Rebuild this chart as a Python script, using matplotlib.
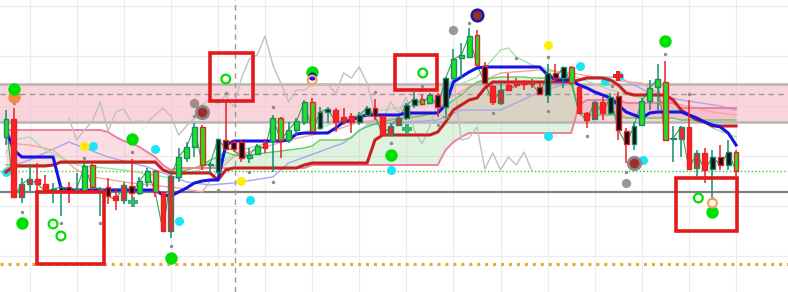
import matplotlib
matplotlib.use("Agg")
import matplotlib.pyplot as plt
from matplotlib.patches import Rectangle

# ---------------- data ----------------
opens = [163, 181, 103, 116, 121, 116, 110, 109, 113, 109,
         109, 135, 110, 113, 104, 100, 114, 107, 118, 129,
         108, 69, 123, 142, 153, 173, 135, 128, 160, 158,
         158, 142, 146, 157, 159, 182, 160, 170, 178, 198,
         172, 188, 190, 183, 184, 178, 185, 192, 184, 165,
         175, 182, 195, 201, 197, 205, 193, 222, 242, 243,
         265, 234, 214, 197, 215, 218, 218, 218, 213, 205,
         227, 222, 233, 213, 187, 181, 198, 187, 204, 169,
         156, 175, 199, 213, 218, 161, 161, 173, 132, 147,
         131, 143, 135, 148]
highs = [190, 192, 122, 136, 137, 125, 117, 113, 118, 127,
         137, 136, 113, 122, 112, 118, 141, 123, 132, 130,
         108, 127, 152, 158, 177, 175, 138, 161, 198, 160,
         160, 152, 156, 161, 185, 183, 178, 182, 200, 202,
         193, 193, 192, 192, 187, 188, 194, 201, 184, 177,
         184, 197, 208, 205, 207, 207, 223, 251, 257, 272,
         270, 238, 215, 217, 227, 222, 220, 221, 217, 236,
         236, 233, 234, 214, 188, 199, 203, 207, 208, 172,
         178, 202, 220, 236, 239, 174, 174, 200, 150, 152,
         150, 155, 160, 150]
lows = [155, 103, 97, 109, 107, 109, 97, 84, 97, 108,
        109, 109, 84, 96, 90, 96, 103, 105, 113, 103,
        69, 62, 118, 138, 143, 130, 127, 125, 151, 148,
        138, 137, 145, 147, 128, 142, 157, 165, 175, 168,
        170, 177, 168, 175, 167, 175, 183, 180, 164, 164,
        175, 180, 192, 195, 196, 183, 182, 220, 222, 242,
        234, 217, 195, 195, 210, 212, 210, 212, 205, 197,
        217, 212, 215, 186, 172, 180, 180, 185, 160, 137,
        150, 174, 190, 190, 160, 138, 143, 131, 124, 117,
        103, 130, 130, 124]
closes = [181, 103, 116, 121, 116, 109, 111, 113, 109, 111,
          134, 113, 111, 104, 100, 115, 107, 119, 129, 108,
          69, 124, 143, 153, 173, 135, 136, 161, 151, 151,
          142, 145, 154, 152, 182, 160, 170, 179, 198, 169,
          188, 191, 178, 179, 178, 185, 192, 184, 165, 174,
          182, 195, 201, 196, 205, 193, 222, 241, 245, 264,
          235, 217, 198, 210, 210, 215, 216, 216, 206, 227,
          222, 233, 217, 187, 180, 198, 187, 203, 170, 156,
          174, 199, 212, 221, 160, 162, 173, 131, 147, 130,
          143, 135, 148, 129]
body_fill = ("grrrrrkkkg" "gggkrrkggg" "rrgggggkkk" "kggrgggggg" "kkrrrkkkrr"
             "rkkggkkggg" "gkrrrrrrkk" "kkgrrrrkkk" "kgggggrrrr" "kkkg")

tenkan = [170, 150, 143, 143, 143, 143, 143, 112, 110, 110,
          110, 110, 110, 110, 110, 110, 110, 110, 110, 110,
          105, 104, 108, 112, 117, 119, 120, 120, 155, 159,
          159, 159, 159, 159, 159, 159, 160, 166, 167, 167,
          167, 167, 172, 178, 180, 183, 185, 185, 185, 185,
          185, 187, 187, 187, 187, 187, 195, 218, 223, 228,
          232, 233, 233, 233, 233, 233, 233, 233, 233, 225,
          220, 220, 220, 215, 212, 208, 205, 202, 195, 188,
          185, 182, 187, 188, 188, 188, 188, 185, 182, 178,
          175, 173, 167, 155]
kijun = [128, 134, 134, 134, 134, 134, 135, 138, 138, 138,
         138, 138, 138, 138, 138, 138, 138, 138, 138, 138,
         130, 127, 127, 127, 127, 127, 127, 120, 130, 132,
         132, 132, 132, 132, 132, 132, 132, 132, 135, 137,
         137, 137, 137, 137, 137, 137, 137, 160, 165, 165,
         165, 165, 165, 165, 165, 168, 178, 190, 195, 200,
         202, 212, 218, 218, 218, 218, 218, 218, 218, 218,
         218, 218, 218, 220, 222, 222, 222, 220, 215, 207,
         205, 205, 205, 205, 205, 200, 190, 185, 180, 178,
         174, 174, 174, 174]
span_b = [170, 170, 170, 170, 170, 170, 170, 170, 170, 170,
          170, 170, 170, 168, 163, 159, 157, 153, 148, 143,
          135, 130, 132, 132, 132, 132, 132, 132, 132, 132,
          132, 132, 132, 132, 132, 132, 132, 132, 132, 135,
          135, 135, 135, 135, 135, 135, 135, 135, 135, 135,
          135, 135, 135, 135, 135, 135, 150, 158, 163, 167,
          167, 167, 167, 167, 167, 167, 167, 167, 167, 167,
          167, 167, 167, 195, 200, 200, 200, 200, 200, 197,
          197, 197, 197, 197, 197, 197, 192, 192, 192, 192,
          192, 192, 192, 192]
span_a = [135, 135, 135, 135, 135, 135, 135, 137, 137, 137,
          137, 137, 137, 137, 137, 137, 137, 137, 137, 137,
          130, 128, 128, 130, 132, 135, 140, 143, 148, 145,
          145, 145, 146, 147, 148, 149, 150, 151, 152, 154,
          160, 160, 160, 160, 162, 170, 173, 176, 179, 180,
          181, 182, 183, 184, 186, 188, 194, 200, 205, 212,
          218, 220, 222, 223, 223, 223, 223, 222, 222, 222,
          222, 222, 222, 188, 185, 185, 185, 185, 185, 182,
          182, 182, 182, 182, 182, 182, 180, 180, 180, 180,
          180, 180, 180, 180]
chikou_shift = 26
chikou_start = 34

lav_idx = [0, 3, 8, 13, 18, 23, 26, 29, 34, 36, 43, 46, 55, 58, 63, 68, 72, 74, 78, 82, 86, 91, 93]
lav_val = [132, 140, 158, 143, 133, 118, 115, 117, 123, 137, 157, 175, 180, 190, 190, 208, 218, 223, 223, 207, 200, 194, 190]
sal_idx = [0, 3, 6, 9, 11, 16, 22, 25, 27, 29, 33, 36, 42, 45, 51, 55, 56, 59, 63, 68, 72, 77, 81, 85, 90, 93]
sal_val = [157, 155, 150, 130, 123, 117, 112, 108, 130, 143, 153, 160, 170, 178, 183, 187, 200, 213, 227, 230, 227, 220, 217, 197, 188, 185]
lg_idx = [0, 1, 3, 5, 9, 15, 21, 27, 30, 36, 41, 46, 55, 57, 60, 63, 64, 65, 67, 72, 77, 81, 83, 88, 90, 93]
lg_val = [147, 160, 163, 150, 135, 130, 122, 135, 150, 163, 175, 188, 197, 213, 223, 250, 252, 243, 235, 225, 210, 202, 197, 183, 172, 163]

# horizontal levels
band_high, band_low, band_mid = 216, 178, 206
support_level = 108
green_level = 129
orange_level = 36
vline_at = 29.2
grid_x = [3, 9, 15, 21, 27, 33, 39, 45, 51, 57, 63, 69, 75, 81, 87, 93]
grid_y = [44, 94, 144, 194, 244, 294]

# markers (candle index, price)
big_green = ([1, 2, 16, 21, 39, 49, 84, 90], [211, 77, 161, 42, 228, 145, 259, 88])
orange_dot = ([1], [203])
orange_ring = ([39, 90], [220, 97])
blue_dot = ([39], [224])
green_ring = ([28, 6, 7, 53.1, 88.2], [221, 76, 64, 227, 102])
cyan_dot = ([0, 11.1, 19, 22, 31.1, 49, 69, 73.1, 81.1, 76.3, 78.1],
            [128, 154, 151, 79, 100, 130, 164, 234, 140, 219, 224])
yellow_dot = ([10, 30, 69], [154, 119, 255])
gray_small = ([1, 2, 10, 7, 12, 16, 21, 27, 24, 28, 31, 34, 34, 47, 49, 53, 55, 59, 62, 65,
               69, 69, 74, 77.2, 79, 84, 87, 90],
              [197, 88, 142, 77, 77, 148, 54, 110, 184, 207, 128, 193, 118, 208, 157, 214, 175,
               277, 187, 242, 243, 189, 164, 214, 128, 246, 206, 102])
gray_big = ([57, 79], [270, 117])
rosy_big = ([24], [197])
maroon_ring = ([25, 80], [188, 137])
navy_ring = ([60], [285])
red_plus = ([78], [224])
green_plus = ([16.2, 51.1], [98, 171])
olive_plus = ([56, 83.3], [183, 198])

# highlight boxes: (first index, last index, low price, high price)
boxes = [(3.95, 12.48, 36, 108), (26.0, 31.5, 199, 247), (49.55, 54.9, 210, 245), (85.35, 93.1, 69, 122)]

# ---------------- drawing ----------------
fig = plt.figure(figsize=(7.88, 2.92), dpi=100)
ax = fig.add_axes([0, 0, 1, 1])
ax.set_xlim(-0.764, 99.62)
ax.set_ylim(8, 300)
ax.axis('off')

n = len(closes)
idx = list(range(n))

for gx in grid_x:
    ax.axvline(gx, color='#ececec', lw=0.8, zorder=0)
for gy in grid_y:
    ax.axhline(gy, color='#ececec', lw=0.8, zorder=0)

ax.axhspan(band_low, band_high, color='#f7c3cc', alpha=0.7, lw=0, zorder=1)

# cloud
ga = [a >= b for a, b in zip(span_a, span_b)]
pa = [a < b for a, b in zip(span_a, span_b)]
ax.fill_between(idx, span_a, span_b, where=ga, interpolate=True, color='#7fd07f', alpha=0.25, lw=0, zorder=1.5)
ax.fill_between(idx, span_a, span_b, where=pa, interpolate=True, color='#f48fa8', alpha=0.3, lw=0, zorder=1.5)

ax.axhline(band_high, color='#b5b5b5', lw=1.8, zorder=2)
ax.axhline(band_low, color='#b5b5b5', lw=1.8, zorder=2)
ax.axhline(band_mid, color='#9a9a9a', lw=1, ls=(0, (4, 3)), zorder=2)
ax.axhline(support_level, color='#808080', lw=1.6, zorder=2)
ax.axhline(green_level, color='#2ecc2e', lw=1, ls=(0, (1, 1.6)), zorder=2)
ax.axhline(orange_level, color='#f2a33a', lw=2.2, ls=(0, (1, 1.6)), dash_capstyle='butt', zorder=2)
ax.axvline(vline_at, color='#9a9a9a', lw=1, ls=(0, (4, 3)), zorder=2)

# thin indicator lines
ax.plot(lav_idx, lav_val, color='#a6a6ee', lw=1, zorder=3)
ax.plot(sal_idx, sal_val, color='#f5a3a3', lw=1, zorder=3)
ax.plot(lg_idx, lg_val, color='#a3e3a3', lw=1, zorder=3)
ax.plot(idx, span_a, color='#5ccc5c', lw=1, zorder=3)
ax.plot(idx, span_b, color='#ee7fa0', lw=1.4, zorder=3)
ch_x = [i - chikou_shift for i in range(chikou_start, n)]
ch_y = closes[chikou_start:]
ax.plot(ch_x, ch_y, color='#c0c0c0', lw=1, zorder=3)
ax.plot(idx, closes, color='#3f9f50', lw=0.8, zorder=3.5)

# cyan dots partly hidden behind lines
ax.scatter(cyan_dot[0], cyan_dot[1], s=42, color='#1ee3f5', lw=0, zorder=3.2)

ax.plot(idx, kijun, color='#c8201e', lw=2.2, zorder=4)
ax.plot(idx, tenkan, color='#1414e6', lw=2.2, zorder=4.1)

# candles
fill_map = {'g': '#22e022', 'r': '#ff2020', 'k': '#111111'}
fills = [fill_map[c] for c in body_fill]
edges = ['#178c6c' if c >= o else '#e8202a' for o, c in zip(opens, closes)]
bottoms = [min(o, c) for o, c in zip(opens, closes)]
heights = [max(abs(c - o), 0.8) for o, c in zip(opens, closes)]
ax.vlines(idx, lows, highs, colors=edges, lw=1.1, zorder=5)
ax.bar(idx, heights, bottom=bottoms, width=0.62, color=fills, edgecolor=edges, linewidth=1.0, zorder=6)

# markers
ax.scatter(gray_small[0], gray_small[1], s=6, color='#8c8c8c', lw=0, zorder=7)
ax.scatter(gray_big[0], gray_big[1], s=45, color='#999999', lw=0, zorder=7)
ax.scatter(rosy_big[0], rosy_big[1], s=45, color='#a88888', lw=0, zorder=7)
ax.scatter(maroon_ring[0], maroon_ring[1], s=80, color='#a02c2c', edgecolor='#8a8a8a', lw=2, zorder=7)
ax.scatter(navy_ring[0], navy_ring[1], s=70, color='#9a2c2c', edgecolor='#1a1a9a', lw=1.8, zorder=7)
ax.scatter(yellow_dot[0], yellow_dot[1], s=42, color='#ffee00', lw=0, zorder=7)
ax.scatter(orange_dot[0], orange_dot[1], s=80, color='#f58a40', lw=0, zorder=7)
ax.scatter(big_green[0], big_green[1], s=80, color='#00e000', lw=0, zorder=7.2)
ax.scatter(blue_dot[0], blue_dot[1], s=35, color='#1010e0', lw=0, zorder=7.3)
ax.scatter(orange_ring[0], orange_ring[1], s=40, facecolor='none', edgecolor='#f7a060', lw=1.6, zorder=7.4)
ax.scatter(green_ring[0], green_ring[1], s=40, facecolor='none', edgecolor='#00e000', lw=1.6, zorder=7.4)
ax.scatter(red_plus[0], red_plus[1], s=45, marker='P', color='#ee2020', lw=0, zorder=7.5)
ax.scatter(green_plus[0], green_plus[1], s=45, marker='P', color='#3cb371', lw=0, zorder=7.5)
ax.scatter(olive_plus[0], olive_plus[1], s=25, marker='P', color='#8c9c6c', lw=0, zorder=7.5)

for x0, x1, y0, y1 in boxes:
    ax.add_patch(Rectangle((x0, y0), x1 - x0, y1 - y0, fill=False, ec='#e31a1c', lw=2.6, zorder=9))

fig.savefig('out.png', dpi=100)
